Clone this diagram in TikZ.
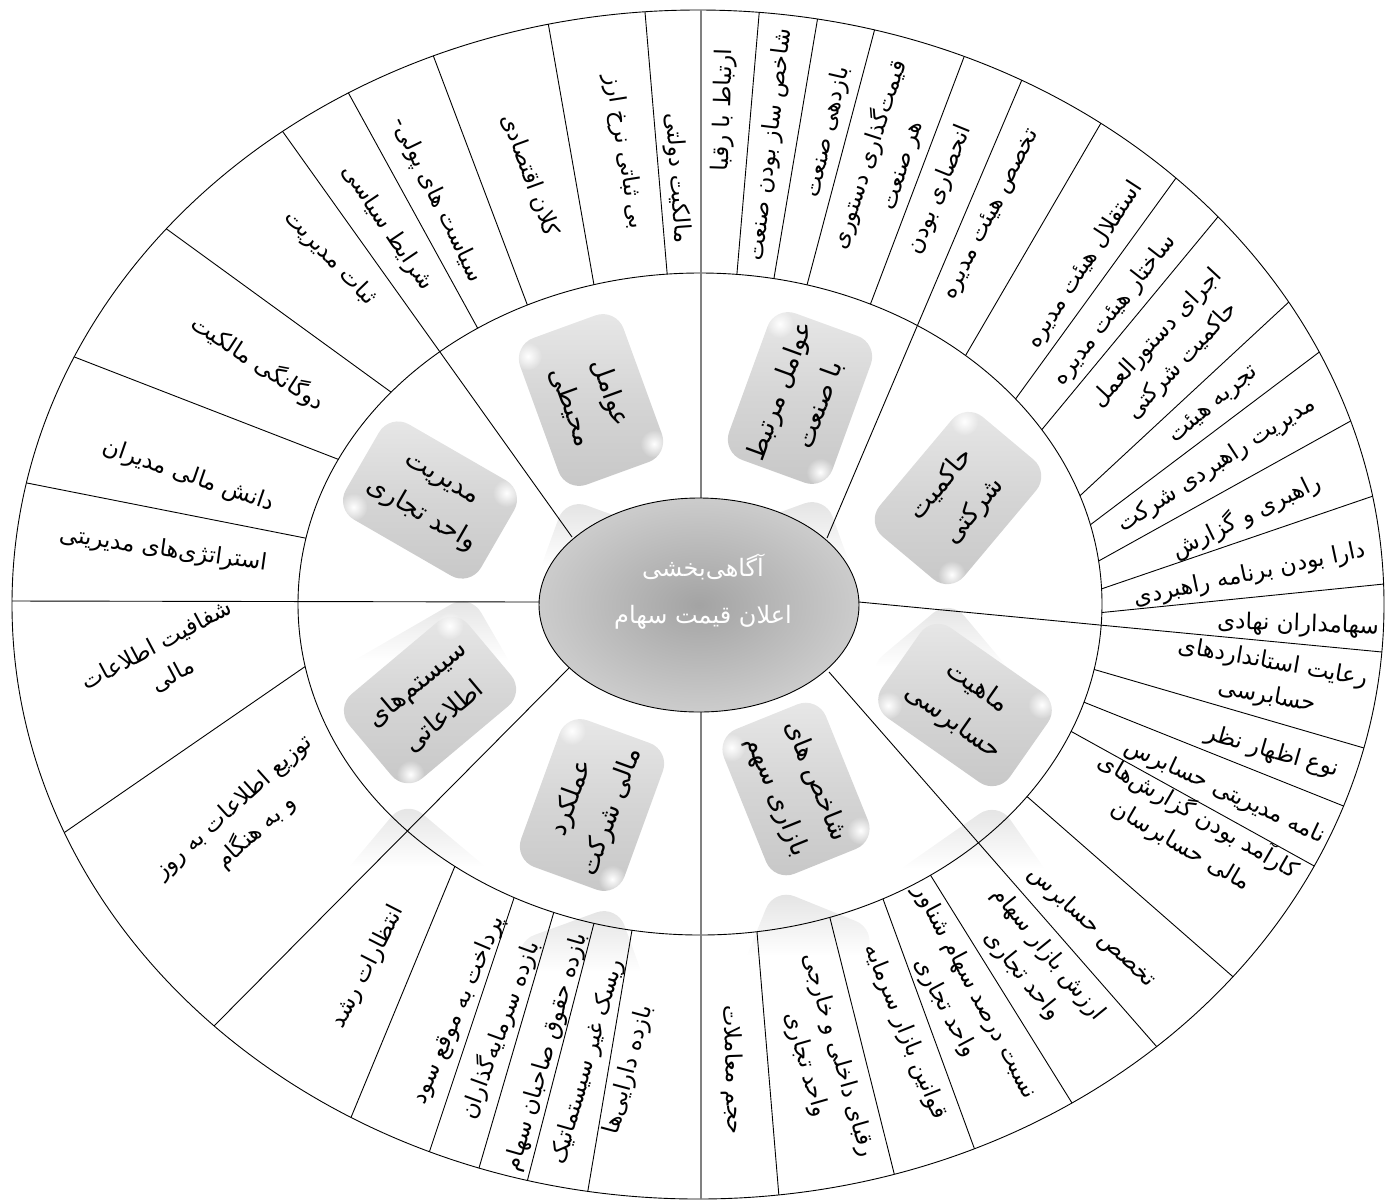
\documentclass[tikz,border=0pt]{standalone}
\usepackage{fontspec}
\newfontfamily\farsi[Script=Arabic]{DejaVu Sans}
\TeXXeTstate=1
\usetikzlibrary{calc,fadings}
\tikzfading[name=glowFade,inner color=transparent!0,outer color=transparent!100]
\newcommand{\rtltext}[1]{\beginR #1\endR}

\begin{document}
\begin{tikzpicture}
[x=0.5pt,y=-0.5pt,
 ringLine/.style={black,line width=0.45pt,shorten <=-8pt,shorten >=-8pt},
 axisLine/.style={black,line width=0.45pt,shorten >=-8pt},
 greyAxis/.style={gray,line width=1.1pt,shorten >=-8pt},
 ringText/.style={font=\farsi\fontsize{11.5}{17}\selectfont,align=center,inner sep=0pt},
 boxDecorate/.style={rounded corners=11pt,minimum width=78pt,minimum height=55pt,inner sep=2pt,
   top color=gray!18,bottom color=gray!44,middle color=gray!33,
   font=\farsi\fontsize{13}{21}\selectfont,align=center},
 hubText/.style={white,font=\farsi\fontsize{12}{14}\selectfont,inner sep=0pt}]
\useasboundingbox (0,0) rectangle (1386,1201);
%% faint mirror images under the boxes
\foreach \x/\y/\ang/\ytop in {591/590/70/492, 800/588/-70/490, 958/694/-50/593,
  965/891/35/795, 796/981/68/882, 592/997/-70/898, 430/892/-40/793, 430/680/30/587}
{
  \begin{scope}[rounded corners=11pt]
  \clip ($(\x,\y)+(\ang:39pt)+(\ang+90:27.5pt)$) -- ($(\x,\y)+(\ang+180:39pt)+(\ang+90:27.5pt)$)
    -- ($(\x,\y)+(\ang+180:39pt)+(\ang-90:27.5pt)$) -- ($(\x,\y)+(\ang:39pt)+(\ang-90:27.5pt)$) -- cycle;
  \shade[top color=gray!24,bottom color=white] (\x-130,\ytop+4) rectangle (\x+130,\ytop+74);
  \end{scope}
}
%% outer and inner rings
\draw[black,line width=0.45pt] (698,604.5) ellipse [x radius=343pt,y radius=297.25pt];
\draw[black,line width=0.45pt] (700,604) ellipse [x radius=201pt,y radius=165.5pt];
%% spokes of the outer ring
\begin{scope}[even odd rule]
\clip (698,604.5) ellipse [x radius=343pt,y radius=297.25pt]
  (700,604) ellipse [x radius=201pt,y radius=165.5pt];
\foreach \xa/\ya/\xb/\yb in {
  305/538/27/483, 340/460/77/358, 395/395/168/230, 477/327/349/94,
  527/304/433/55, 594/285/549/28, 667/272/645/12,
  737/273/759/15, 774/278/817/22, 807/285/874/32, 872/300/964/57,
  967/353/1101/123, 1017/397/1176/178, 1044/427/1217/218,
  1084/492/1291/300, 1094/522/1322/350, 1104/558/1347/423,
  1107/587/1376/495, 1107/612/1384/584,
  1096/670/1364/748, 1086/703/1346/807, 1074/733/1316/867,
  1031/800/1231/975, 931/876/1072/1103, 883/899/976/1153,
  830/918/895/1177, 757/932/779/1197,
  632/930/588/1190, 593/927/527/1182, 553/915/479/1168,
  514/898/430/1150, 455/866/352/1115, 303/668/68/830}
{
  \draw[ringLine] (\xa,\ya) -- (\xb,\yb);
}
\end{scope}
%% sector dividers
\begin{scope}
\clip (698,604.5) ellipse [x radius=343pt,y radius=297.25pt];
\foreach \xa/\ya/\xb/\yb in {
  572/537/283/132, 827/538/1021/82, 859/602/1382/652,
  829/672/1157/1047, 569/668/213/1027, 539/602/12/601}
{
  \draw[axisLine] (\xa,\ya) -- (\xb,\yb);
}
\draw[greyAxis] (701,500) -- (701,10);
\draw[greyAxis] (701,710) -- (701,1199);
\end{scope}
%% category boxes
\foreach \x/\y/\ang/\bname/\txt in {
  591/400/-70/boxEnv/{\rtltext{عوامل}\\\rtltext{محیطی}},
  800/398/70/boxInd/{\rtltext{عوامل مرتبط}\\\rtltext{با صنعت}},
  958/498/50/boxGov/{\rtltext{حاکمیت}\\\rtltext{شرکتی}},
  965/705/-35/boxAud/{\rtltext{ماهیت}\\\rtltext{حسابرسی}},
  796/789/-68/boxMkt/{\rtltext{شاخص های}\\\rtltext{بازاری سهم}},
  592/805/70/boxFin/{\rtltext{عملکرد}\\\rtltext{مالی شرکت}},
  430/700/40/boxInf/{\rtltext{سیستم‌های}\\\rtltext{اطلاعاتی}},
  430/500/-30/boxMgt/{\rtltext{مدیریت}\\\rtltext{واحد تجاری}}}
{
  \node (\bname) at (\x,\y) [boxDecorate,rotate=\ang] {\txt};
  \fill[white,path fading=glowFade]
    ($(\bname.north east)!0.1!(\bname.south west)$) circle (7pt);
  \fill[white,path fading=glowFade]
    ($(\bname.south west)!0.1!(\bname.north east)$) circle (7pt);
}
%% hub
\shadedraw[inner color=gray!72,outer color=gray!40,draw=black,line width=0.45pt]
  (699,605) ellipse [x radius=80pt,y radius=53.5pt];
\node (hubTop) at (703,567) [hubText] {\rtltext{آگاهی‌بخشی}};
\node (hubBottom) at (703,617) [hubText] {\rtltext{اعلان قیمت سهام}};
%% labels of the outer ring
\foreach \x/\y/\ang/\txt [count=\i] in {
  163/550/-8/{\rtltext{استراتژی‌های مدیریتی}},
  188/476/-19/{\rtltext{دانش مالی مدیران}},
  258/363/-33/{\rtltext{دوگانگی مالکیت}},
  330/258/-46/{\rtltext{ثبات مدیریت}},
  387/228/-56/{\rtltext{شرایط سیاسی}},
  437/200/-64/{\rtltext{سیاست های پولی-}},
  530/175/-70/{\rtltext{کلان اقتصادی}},
  624/152/-81/{\rtltext{بی ثباتی نرخ ارز}},
  677/178/-86/{\rtltext{مالکیت دولتی}},
  724/110/88/{\rtltext{ارتباط با رقبا}},
  771/145/83/{\rtltext{شاخص ساز بودن صنعت}},
  828/132/77/{\rtltext{بازدهی صنعت}},
  885/160/72/{\rtltext{قیمت‌گذاری دستوری}\\\rtltext{هر صنعت}},
  940/190/68/{\rtltext{انحصاری بودن}},
  992/215/63/{\rtltext{تخصص هیئت مدیره}},
  1085/265/57/{\rtltext{استقلال هیئت مدیره}},
  1115/310/52/{\rtltext{ساختار هیئت مدیره}},
  1170/350/47/{\rtltext{اجرای دستورالعمل}\\\rtltext{حاکمیت شرکتی}},
  1214/405/40/{\rtltext{تجربه هیئت}},
  1217/465/33/{\rtltext{مدیریت راهبردی شرکت}},
  1246/516/26/{\rtltext{راهبری و گزارش}},
  1250/575/12/{\rtltext{دارا بودن برنامه راهبردی}},
  1298/625/-2/{\rtltext{سهامداران نهادی}},
  1270/680/-10/{\rtltext{رعایت استانداردهای}\\\rtltext{حسابرسی}},
  1272/752/-16/{\rtltext{نوع اظهار نظر}},
  1225/792/-25/{\rtltext{نامه مدیریتی حسابرس}},
  1190/830/-30/{\rtltext{کارآمد بودن گزارش‌های}\\\rtltext{مالی حسابرسان}},
  1092/927/-43/{\rtltext{تخصص حسابرس}},
  1035/965/-51/{\rtltext{ارزش بازار سهام}\\\rtltext{واحد تجاری}},
  960/1000/-62/{\rtltext{نسبت درصد سهام شناور}\\\rtltext{واحد تجاری}},
  905/1032/-68/{\rtltext{قوانین بازار سرمایه}},
  822/1060/-74/{\rtltext{رقبای داخلی و خارجی}\\\rtltext{واحد تجاری}},
  732/1070/-88/{\rtltext{حجم معاملات}},
  629/1070/75/{\rtltext{بازده دارایی‌ها}},
  588/1062/74/{\rtltext{ریسک غیر سیستماتیک}},
  547/1052/74/{\rtltext{بازده حقوق صاحبان سهام}},
  500/1030/70/{\rtltext{بازده سرمایه‌گذاران}},
  459/1010/67/{\rtltext{پرداخت به موقع سود}},
  368/967/63/{\rtltext{انتظارات رشد}},
  245/820/42/{\rtltext{توزیع اطلاعات به روز}\\\rtltext{و به هنگام}},
  165/660/28/{\rtltext{شفافیت اطلاعات}\\\rtltext{مالی}}}
{
  \node (lbl\i) at (\x,\y) [ringText,rotate=\ang] {\txt};
}
\end{tikzpicture}
\end{document}
